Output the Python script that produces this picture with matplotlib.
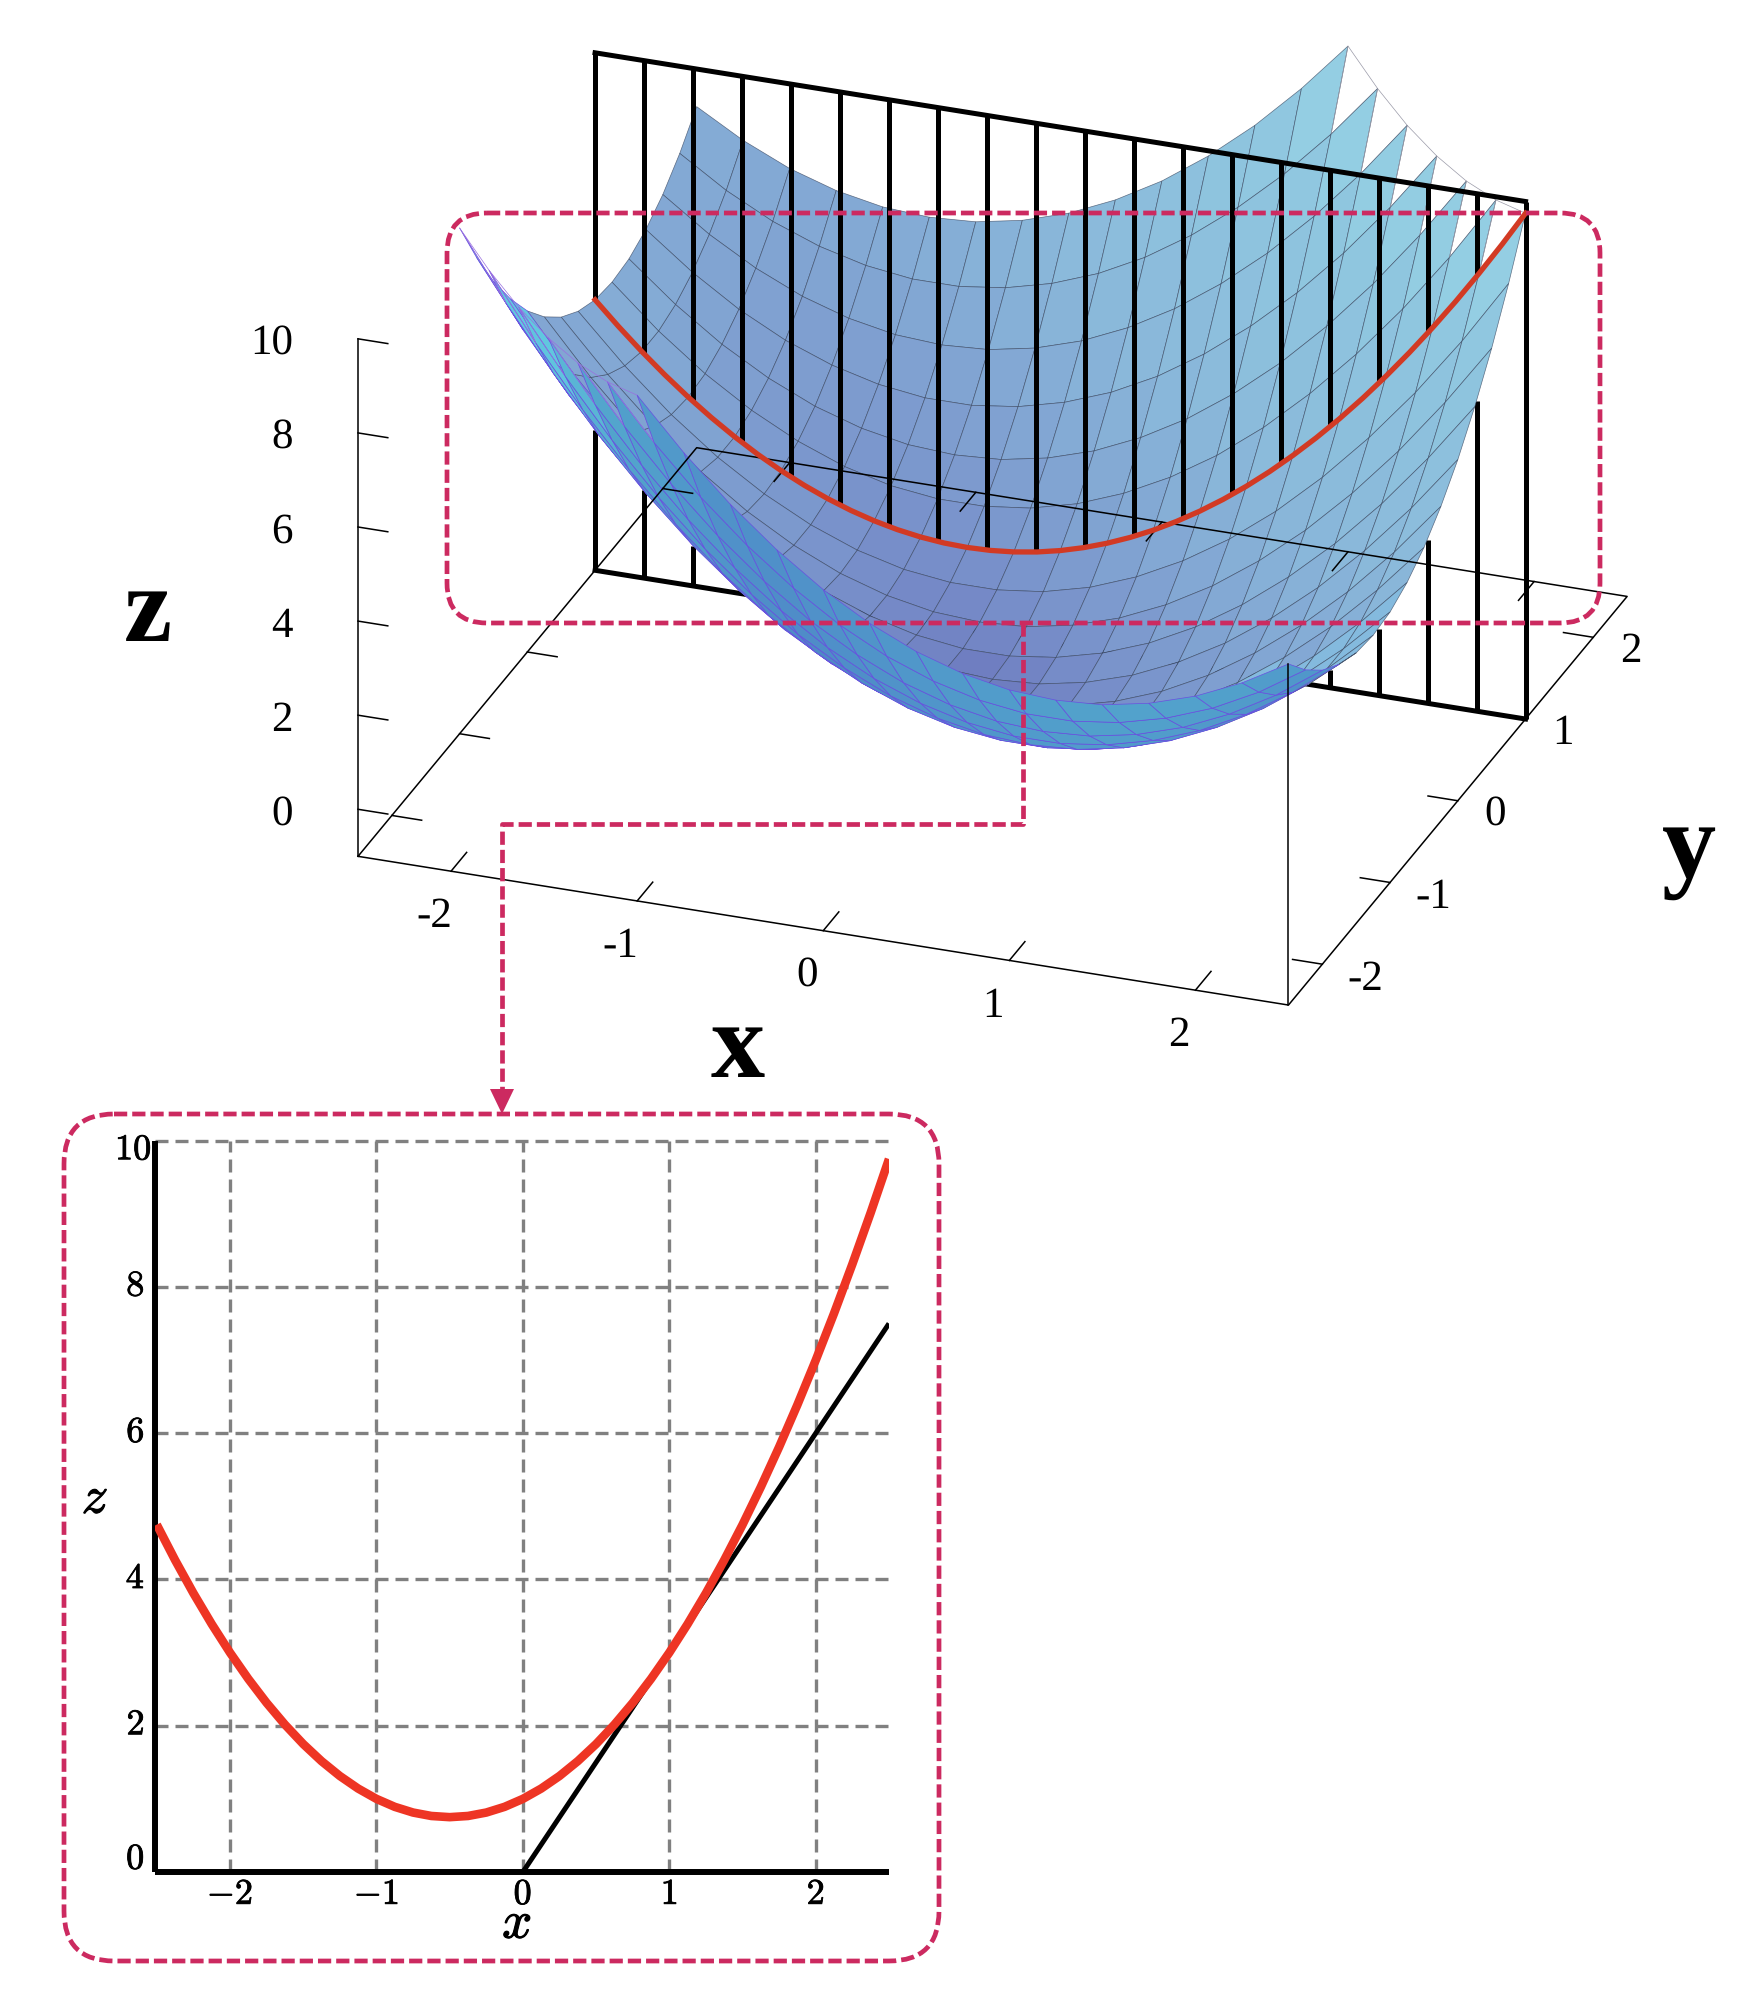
import numpy as np
import matplotlib
matplotlib.use('Agg')
import matplotlib.pyplot as plt
import matplotlib.patheffects as pe
from matplotlib.colors import LinearSegmentedColormap
from matplotlib.patches import FancyBboxPatch, Polygon
from mpl_toolkits.mplot3d.art3d import Poly3DCollection

plt.rcParams['font.family'] = 'Liberation Serif'
plt.rcParams['mathtext.fontset'] = 'cm'
plt.rcParams['text.hinting'] = 'none'

n = np.nan

# surface heights, one row per y, one column per x
grid_x = [-2.5, -2.25, -2.0, -1.75, -1.5, -1.25, -1.0, -0.75, -0.5, -0.25, 0.0,
          0.25, 0.5, 0.75, 1.0, 1.25, 1.5, 1.75, 2.0, 2.25, 2.5]
grid_y = list(grid_x)
surface_z = [
    [n, n, n, n, n, n, 9.75, 8.69, 7.75, 6.94, 6.25, 5.69, 5.25, 4.94, 4.75, 4.69, 4.75, 4.94, 5.25, 5.69, 6.25],
    [n, n, n, n, n, 9.44, 8.31, 7.31, 6.44, 5.69, 5.06, 4.56, 4.19, 3.94, 3.81, 3.81, 3.94, 4.19, 4.56, 5.06, 5.69],
    [n, n, n, n, 9.25, 8.06, 7.0, 6.06, 5.25, 4.56, 4.0, 3.56, 3.25, 3.06, 3.0, 3.06, 3.25, 3.56, 4.0, 4.56, 5.25],
    [n, n, n, 9.19, 7.94, 6.81, 5.81, 4.94, 4.19, 3.56, 3.06, 2.69, 2.44, 2.31, 2.31, 2.44, 2.69, 3.06, 3.56, 4.19, 4.94],
    [n, n, 9.25, 7.94, 6.75, 5.69, 4.75, 3.94, 3.25, 2.69, 2.25, 1.94, 1.75, 1.69, 1.75, 1.94, 2.25, 2.69, 3.25, 3.94, 4.75],
    [n, 9.44, 8.06, 6.81, 5.69, 4.69, 3.81, 3.06, 2.44, 1.94, 1.56, 1.31, 1.19, 1.19, 1.31, 1.56, 1.94, 2.44, 3.06, 3.81, 4.69],
    [9.75, 8.31, 7.0, 5.81, 4.75, 3.81, 3.0, 2.31, 1.75, 1.31, 1.0, 0.81, 0.75, 0.81, 1.0, 1.31, 1.75, 2.31, 3.0, 3.81, 4.75],
    [8.69, 7.31, 6.06, 4.94, 3.94, 3.06, 2.31, 1.69, 1.19, 0.81, 0.56, 0.44, 0.44, 0.56, 0.81, 1.19, 1.69, 2.31, 3.06, 3.94, 4.94],
    [7.75, 6.44, 5.25, 4.19, 3.25, 2.44, 1.75, 1.19, 0.75, 0.44, 0.25, 0.19, 0.25, 0.44, 0.75, 1.19, 1.75, 2.44, 3.25, 4.19, 5.25],
    [6.94, 5.69, 4.56, 3.56, 2.69, 1.94, 1.31, 0.81, 0.44, 0.19, 0.06, 0.06, 0.19, 0.44, 0.81, 1.31, 1.94, 2.69, 3.56, 4.56, 5.69],
    [6.25, 5.06, 4.0, 3.06, 2.25, 1.56, 1.0, 0.56, 0.25, 0.06, 0.0, 0.06, 0.25, 0.56, 1.0, 1.56, 2.25, 3.06, 4.0, 5.06, 6.25],
    [5.69, 4.56, 3.56, 2.69, 1.94, 1.31, 0.81, 0.44, 0.19, 0.06, 0.06, 0.19, 0.44, 0.81, 1.31, 1.94, 2.69, 3.56, 4.56, 5.69, 6.94],
    [5.25, 4.19, 3.25, 2.44, 1.75, 1.19, 0.75, 0.44, 0.25, 0.19, 0.25, 0.44, 0.75, 1.19, 1.75, 2.44, 3.25, 4.19, 5.25, 6.44, 7.75],
    [4.94, 3.94, 3.06, 2.31, 1.69, 1.19, 0.81, 0.56, 0.44, 0.44, 0.56, 0.81, 1.19, 1.69, 2.31, 3.06, 3.94, 4.94, 6.06, 7.31, 8.69],
    [4.75, 3.81, 3.0, 2.31, 1.75, 1.31, 1.0, 0.81, 0.75, 0.81, 1.0, 1.31, 1.75, 2.31, 3.0, 3.81, 4.75, 5.81, 7.0, 8.31, 9.75],
    [4.69, 3.81, 3.06, 2.44, 1.94, 1.56, 1.31, 1.19, 1.19, 1.31, 1.56, 1.94, 2.44, 3.06, 3.81, 4.69, 5.69, 6.81, 8.06, 9.44, n],
    [4.75, 3.94, 3.25, 2.69, 2.25, 1.94, 1.75, 1.69, 1.75, 1.94, 2.25, 2.69, 3.25, 3.94, 4.75, 5.69, 6.75, 7.94, 9.25, n, n],
    [4.94, 4.19, 3.56, 3.06, 2.69, 2.44, 2.31, 2.31, 2.44, 2.69, 3.06, 3.56, 4.19, 4.94, 5.81, 6.81, 7.94, 9.19, n, n, n],
    [5.25, 4.56, 4.0, 3.56, 3.25, 3.06, 3.0, 3.06, 3.25, 3.56, 4.0, 4.56, 5.25, 6.06, 7.0, 8.06, 9.25, n, n, n, n],
    [5.69, 5.06, 4.56, 4.19, 3.94, 3.81, 3.81, 3.94, 4.19, 4.56, 5.06, 5.69, 6.44, 7.31, 8.31, 9.44, n, n, n, n, n],
    [6.25, 5.69, 5.25, 4.94, 4.75, 4.69, 4.75, 4.94, 5.25, 5.69, 6.25, 6.94, 7.75, 8.69, 9.75, n, n, n, n, n, n],
]

# red curve (cut at y = 1) and the tangent of the inset
curve_x = [-2.5, -2.375, -2.25, -2.125, -2.0, -1.875, -1.75, -1.625, -1.5, -1.375, -1.25,
           -1.125, -1.0, -0.875, -0.75, -0.625, -0.5, -0.375, -0.25, -0.125, 0.0,
           0.125, 0.25, 0.375, 0.5, 0.625, 0.75, 0.875, 1.0, 1.125, 1.25,
           1.375, 1.5, 1.625, 1.75, 1.875, 2.0, 2.125, 2.25, 2.375, 2.5]
curve_z = [4.75, 4.266, 3.813, 3.391, 3.0, 2.641, 2.313, 2.016, 1.75, 1.516, 1.313,
           1.141, 1.0, 0.891, 0.813, 0.766, 0.75, 0.766, 0.813, 0.891, 1.0,
           1.141, 1.313, 1.516, 1.75, 2.016, 2.313, 2.641, 3.0, 3.391, 3.813,
           4.266, 4.75, 5.266, 5.813, 6.391, 7.0, 7.641, 8.313, 9.016, 9.75]
tangent_x = [0.0, 2.5]
tangent_z = [0.0, 7.5]

# black slats of the plane y = 1
plane_y = 1.0
plane_x = [-2.5, -2.237, -1.974, -1.711, -1.447, -1.184, -0.921, -0.658, -0.395, -0.132,
           0.132, 0.395, 0.658, 0.921, 1.184, 1.447, 1.711, 1.974, 2.237, 2.5]
slat_curve_z = [4.75, 3.77, 2.92, 2.22, 1.65, 1.22, 0.93, 0.78, 0.76, 0.89,
                1.15, 1.55, 2.09, 2.77, 3.59, 4.54, 5.64, 6.87, 8.24, 9.75]
slat_low_z = [1.98, 0.87, -0.16, -0.87, -1, -1, -1, -1, -1, -1,
              -1, -1, -1, -1, -1, -0.62, 0.42, 2.47, 5.59, 9.75]

ticks_xy = [-2, -1, 0, 1, 2]
ticks_z = [0, 2, 4, 6, 8, 10]

fig = plt.figure(figsize=(17.52, 19.98), dpi=100)
W, H = 1752, 1998

# 3d view
ax = fig.add_axes([92.9 / W, 630.7 / H, 1752 / W, 1752 / H], projection='3d', computed_zorder=False)
ax.set_proj_type('ortho')
elev, azim = 26.05, -70.0
ax.view_init(elev=elev, azim=azim)
ax.set_box_aspect((777, 777, 452), zoom=0.839)
ax.set_axis_off()

inner_cmap = LinearSegmentedColormap.from_list(
    'inner', [(0, '#6e7cc0'), (0.12, '#7890ca'), (0.4, '#8ab8da'), (0.6, '#90c8e0'), (0.82, '#a8f0f4'), (1, '#a8f0f4')])
outer_cmap = LinearSegmentedColormap.from_list(
    'outer', [(0, '#4a58c0'), (0.45, '#4f8cc8'), (0.8, '#52a4cc'), (1, '#62c8e0')])
view = np.array([np.cos(np.radians(elev)) * np.cos(np.radians(azim)),
                 np.cos(np.radians(elev)) * np.sin(np.radians(azim)),
                 np.sin(np.radians(elev))])
mesh_gray = (0.2, 0.25, 0.35, 0.7)


def facets(rows):
    verts, faces, edges = [], [], []
    for j in rows:
        for i in range(len(grid_x) - 1):
            corners = [(i, j), (i + 1, j), (i + 1, j + 1), (i, j + 1)]
            pts = [(grid_x[a], grid_y[b], surface_z[b][a]) for a, b in corners
                   if not np.isnan(surface_z[b][a])]
            if len(pts) < 3:
                continue
            p = np.array(pts)
            xm = p[:, 0].mean()
            if len(p) == 3:
                # cut cells at the top: outline only, this gives the saw teeth
                verts.append(pts)
                faces.append((1, 1, 1, 0))
                edges.append('#9a9aa8' if xm > 0 else '#9a70e0')
                continue
            nrm = np.cross(p[2] - p[0], p[3] - p[1])
            nrm = nrm / np.linalg.norm(nrm)
            if nrm[2] < 0:
                nrm = -nrm
            zx, zy = -nrm[0] / nrm[2], -nrm[1] / nrm[2]
            facing = nrm @ view
            if facing > 0:
                s = (np.hypot(zx, zy) - 1.0 * max(0, -zy)) / 11
                faces.append(inner_cmap(np.clip(s, 0, 1)))
                edges.append(mesh_gray)
            elif xm > 1.2 and facing > -0.42:
                faces.append('#84bade')
                edges.append(mesh_gray)
            else:
                s = -facing / 0.95 + 0.5 * max(0, -xm - 0.5)
                faces.append(outer_cmap(np.clip(s, 0, 1)))
                edges.append('#6a50e0')
            verts.append(pts)
    return verts, faces, edges


split = grid_y.index(plane_y)
back = facets(range(split, len(grid_y) - 1))
front = facets(range(0, split))
ax.add_collection3d(Poly3DCollection(back[0], facecolors=back[1], edgecolors=back[2],
                                     linewidths=0.5, zorder=1))
ax.add_collection3d(Poly3DCollection(front[0], facecolors=front[1], edgecolors=front[2],
                                     linewidths=0.5, zorder=3))

# slats, above the curve and below the surface
for sx, cz, lz in zip(plane_x, slat_curve_z, slat_low_z):
    ax.plot([sx, sx], [plane_y, plane_y], [cz, 10], color='black', lw=3.6, zorder=2,
            solid_capstyle='butt')
    if lz > -1:
        ax.plot([sx, sx], [plane_y, plane_y], [-1, lz], color='black', lw=3.6, zorder=2,
                solid_capstyle='butt')
for pz in [-1, 10]:
    ax.plot([-2.5, 2.5], [plane_y, plane_y], [pz, pz], color='black', lw=3.6, zorder=2)

ax.plot(curve_x, [plane_y] * len(curve_x), curve_z, color='#d23a24', lw=3.8, zorder=6)

# thin box and ticks
thin = dict(color='black', lw=1.1, zorder=5)
ax.plot([-2.5, 2.5, 2.5, -2.5, -2.5], [-2.5, -2.5, 2.5, 2.5, -2.5], [-1] * 5, **thin)
ax.plot([-2.5, -2.5], [-2.5, -2.5], [-1, 10], **thin)
ax.plot([2.5, 2.5], [-2.5, -2.5], [-1, 6.25], **thin)
for t in ticks_xy:
    ax.plot([t, t], [-2.5, -2.27], [-1, -1], **thin)
    ax.plot([t, t], [2.5, 2.27], [-1, -1], **thin)
    ax.plot([-2.5, -2.34], [t, t], [-1, -1], **thin)
    ax.plot([2.5, 2.34], [t, t], [-1, -1], **thin)
    ax.text(t, -2.744, -1.55, str(t), fontsize=31, ha='center', va='center')
    ax.text(2.733 if t < 0 else 2.703, t, -1.18, str(t), fontsize=31, ha='center', va='center')
for t in ticks_z:
    ax.plot([-2.5, -2.34], [-2.5, -2.5], [t, t], **thin)
    ax.text(-2.85, -2.5, t - 0.34, str(t), fontsize=31, ha='right', va='center')

ax.set_xlim(-2.5, 2.5)
ax.set_ylim(-2.5, 2.5)
ax.set_zlim(-1, 10)
ax.set_xticks([])
ax.set_yticks([])
ax.set_zticks([])

# inset
left, right, top, bottom = 155.3, 889.0, 1140.7, 1872.0
ins = fig.add_axes([left / W, 1 - bottom / H, (right - left) / W, (bottom - top) / H])
ins.set_xlim(-2.51, 2.5)
ins.set_ylim(0, 10)
ins.spines[['top', 'right']].set_visible(False)
ins.spines[['left', 'bottom']].set_linewidth(4.3)
ins.spines[['left', 'bottom']].set_capstyle('butt')
ins.set_xticks(ticks_xy)
ins.set_xticklabels(['$%d$' % t for t in ticks_xy], fontsize=26)
ins.set_yticks([2, 4, 6, 8, 10])
ins.tick_params(axis='y', labelleft=False)
ins.tick_params(length=0, pad=5)
ins.grid(True, color='#808080', lw=2.4, linestyle=(0, (3.9, 2.1)), clip_on=False)
ins.set_axisbelow(True)
ins.plot(tangent_x, tangent_z, color='black', lw=3.6, zorder=3, solid_capstyle='butt')
ins.plot(curve_x, curve_z, color='#ee3524', lw=6.2, zorder=4, solid_capstyle='butt')
heavy = [pe.withStroke(linewidth=0.6, foreground='black')]
for lab in ins.get_xticklabels():
    lab.set_path_effects(heavy)
for t in ticks_z:
    dy = {0: 12, 10: -10}.get(t, 0)
    dx = -5 if t == 10 else -12
    ins.annotate('$%d$' % t, xy=(-2.5, t), xytext=(dx, dy), textcoords='offset pixels',
                 fontsize=26, ha='right', va='center', annotation_clip=False, path_effects=heavy)

# overlay in pixels: frames, connector, axis names
over = fig.add_axes([0, 0, 1, 1], zorder=10)
over.set_xlim(0, W)
over.set_ylim(H, 0)
over.set_xticks([])
over.set_yticks([])
over.axis('off')
crimson = '#cc2a60'
dash = (0, (2.8, 1.06))
over.add_patch(FancyBboxPatch((447, 213), 1153, 410, boxstyle='round,pad=0,rounding_size=40',
                              fill=False, ec=crimson, lw=3.4, ls=dash))
over.add_patch(FancyBboxPatch((64, 1114), 875, 847, boxstyle='round,pad=0,rounding_size=50',
                              fill=False, ec=crimson, lw=3.4, ls=dash))
over.plot([1023, 1023, 502, 502], [623, 824, 824, 1090], color=crimson, lw=3.4,
          linestyle=dash, dash_capstyle='butt')
over.add_patch(Polygon([(490, 1089), (514, 1089), (502, 1114)], closed=True, fc=crimson, ec='none'))

names = dict(fontsize=78, fontweight='bold', ha='center', va='baseline')
over.text(738, 1077, 'x', **names)
over.text(1689, 877, 'y', **names)
over.text(148, 641, 'z', **names)
stroke = [pe.withStroke(linewidth=0.8, foreground='black')]
over.text(517, 1938, '$x$', fontsize=38, ha='center', va='baseline', path_effects=stroke)
over.text(95, 1513, '$z$', fontsize=38, ha='center', va='baseline', path_effects=stroke)

fig.savefig('out.png', dpi=100)
